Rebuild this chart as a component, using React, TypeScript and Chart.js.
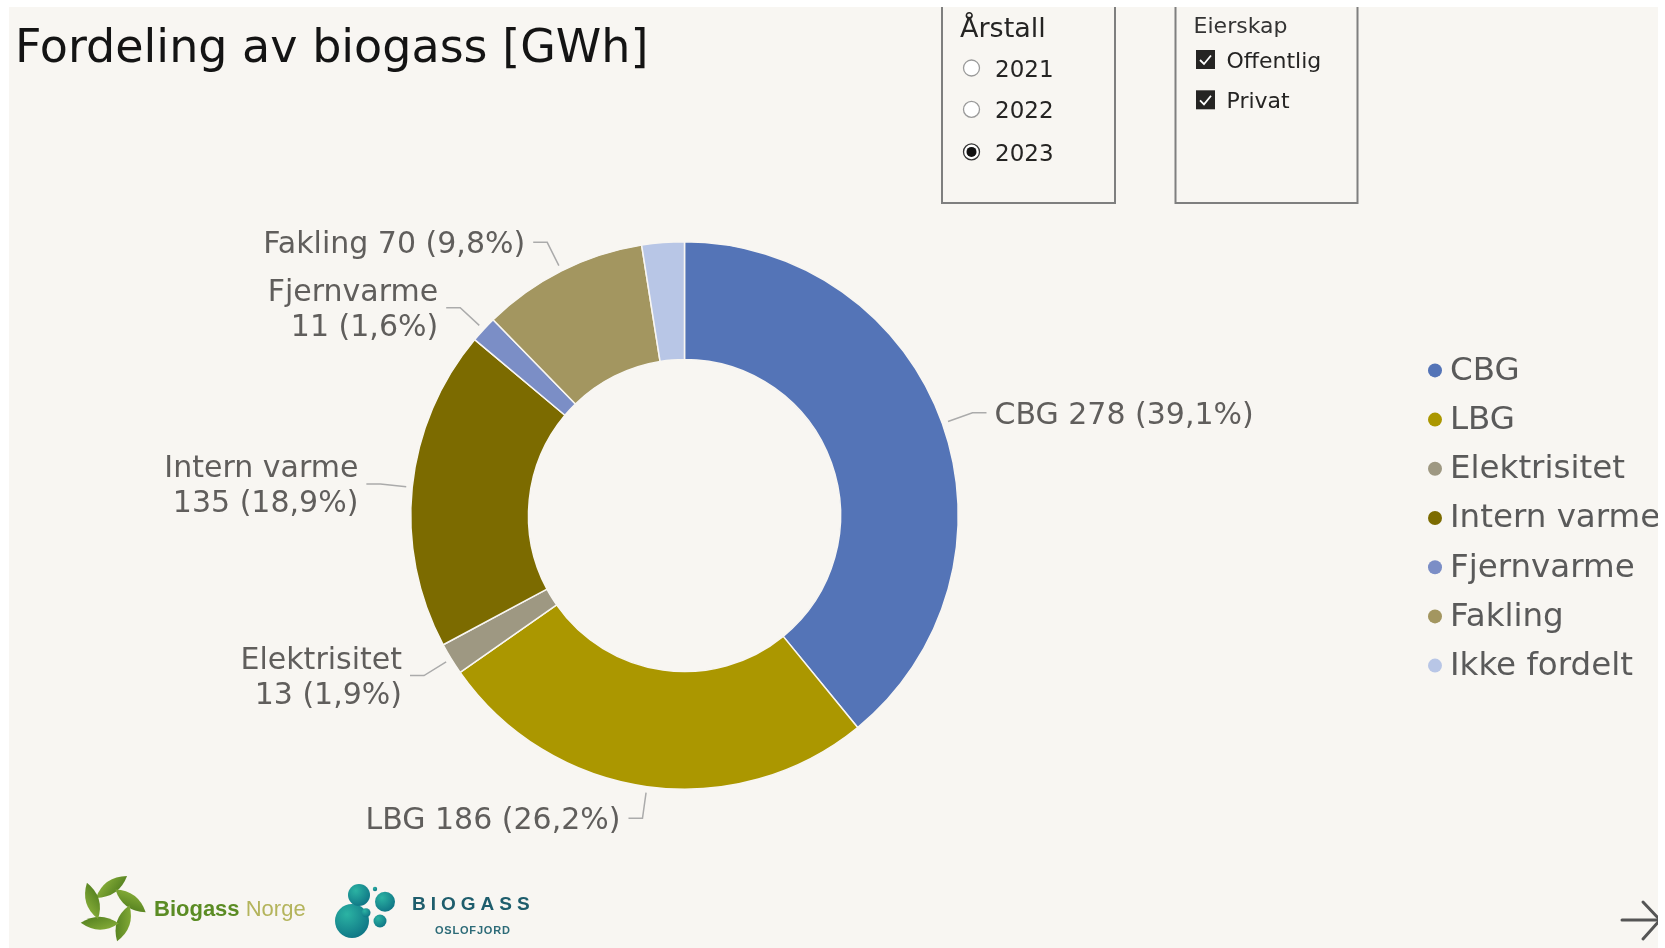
import React, { useEffect, useRef } from "react";
import { Chart, registerables } from "chart.js";
Chart.register(...registerables);

// ---------- data ----------
const categories = ["CBG", "LBG", "Elektrisitet", "Intern varme", "Fjernvarme", "Fakling", "Ikke fordelt"];
const values = [278, 186.2, 13.4, 134.6, 11.2, 69.8, 17.8];
const colors = ["#5474B7", "#AB9700", "#9E9882", "#7C6B00", "#7B8EC6", "#A39660", "#B8C6E6"];
const showLabel = [true, true, true, true, true, true, false];
const wrapLabel = [false, false, true, true, true, false, false];
const years = ["2021", "2022", "2023"];
const selectedYear = "2023";
const ownership = ["Offentlig", "Privat"];
const titleText = "Fordeling av biogass [GWh]";

const BG = "#F8F6F2";
const LABEL_COLOR = "#605E5C";

const leaderLabels = {
  id: "leaderLabels",
  afterDatasetsDraw(chart: any) {
    const ctx = chart.ctx;
    const meta = chart.getDatasetMeta(0);
    const data = chart.data.datasets[0].data as number[];
    const total = data.reduce((a, b) => a + b, 0);
    ctx.save();
    ctx.font = '30px "DejaVu Sans"';
    meta.data.forEach((arc: any, i: number) => {
      if (!showLabel[i]) return;
      const { x, y, startAngle, endAngle, outerRadius } = arc.getProps(
        ["x", "y", "startAngle", "endAngle", "outerRadius"],
        true
      );
      const mid = (startAngle + endAngle) / 2;
      const dx = Math.cos(mid);
      const dy = Math.sin(mid);
      const p0x = x + dx * (outerRadius + 6);
      const p0y = y + dy * (outerRadius + 6);
      const p1x = x + dx * (outerRadius + 32);
      const p1y = y + dy * (outerRadius + 32);
      const side = dx >= 0 ? 1 : -1;
      const p2x = p1x + side * 14;
      ctx.strokeStyle = "#ABABAB";
      ctx.lineWidth = 1.5;
      ctx.beginPath();
      ctx.moveTo(p0x, p0y);
      ctx.lineTo(p1x, p1y);
      ctx.lineTo(p2x, p1y);
      ctx.stroke();
      const v = data[i];
      const pct = ((v / total) * 100).toFixed(1).replace(".", ",");
      const valText = `${Math.round(v)} (${pct}%)`;
      const lines = wrapLabel[i] ? [categories[i], valText] : [`${categories[i]} ${valText}`];
      ctx.fillStyle = LABEL_COLOR;
      ctx.textAlign = side > 0 ? "left" : "right";
      ctx.textBaseline = "middle";
      const lh = 35;
      const tx = p2x + side * 8;
      lines.forEach((ln, k) => {
        ctx.fillText(ln, tx, p1y + (k - (lines.length - 1) / 2) * lh + 3);
      });
    });
    ctx.restore();
  },
};

const sideLegend = {
  id: "sideLegend",
  afterDraw(chart: any) {
    const ctx = chart.ctx;
    const meta = chart.getDatasetMeta(0);
    const cy = meta.data[0] ? meta.data[0].y : 515;
    const n = categories.length;
    const gap = 49.2;
    const dotX = 1435;
    const textX = 1450;
    ctx.save();
    ctx.font = '32.5px "DejaVu Sans"';
    ctx.textAlign = "left";
    ctx.textBaseline = "middle";
    categories.forEach((c, i) => {
      const yy = cy + 2.5 + (i - (n - 1) / 2) * gap;
      ctx.fillStyle = colors[i];
      ctx.beginPath();
      ctx.arc(dotX, yy, 7, 0, Math.PI * 2);
      ctx.fill();
      ctx.fillStyle = "#5A5A5A";
      ctx.fillText(c, textX, yy + 1);
    });
    ctx.restore();
  },
};

function DonutChart() {
  const ref = useRef<HTMLCanvasElement | null>(null);
  useEffect(() => {
    if (!ref.current) return;
    const chart = new Chart(ref.current, {
      type: "doughnut",
      data: {
        labels: categories,
        datasets: [
          {
            data: values,
            backgroundColor: colors,
            borderColor: BG,
            borderWidth: 1.5,
            hoverOffset: 0,
          },
        ],
      },
      options: {
        responsive: false,
        devicePixelRatio: 1,
        animation: false,
        cutout: "57%",
        layout: { padding: { left: 410, right: 706, top: 241, bottom: 158 } },
        plugins: {
          legend: { display: false },
          tooltip: { enabled: false },
        },
      },
      plugins: [leaderLabels, sideLegend],
    });
    return () => chart.destroy();
  }, []);
  return (
    <canvas
      ref={ref}
      width={1665}
      height={948}
      style={{ position: "absolute", left: 0, top: 0, width: 1665, height: 948 }}
    />
  );
}

function Overlay() {
  const radioY = [68, 109.4, 151.9];
  const checkY = [59.5, 99.8];
  const leafAngles = [0, 72, 144, 216, 288];
  const dark = "#252423";
  return (
    <svg
      width={1665}
      height={948}
      style={{ position: "absolute", left: 0, top: 0 }}
      fontFamily="DejaVu Sans"
    >
      <defs>
        <linearGradient id="leaf" x1="0" y1="0" x2="1" y2="1">
          <stop offset="0" stopColor="#8DB33C" />
          <stop offset="1" stopColor="#4D7A1C" />
        </linearGradient>
        <radialGradient id="bub" cx="0.35" cy="0.3" r="0.8">
          <stop offset="0" stopColor="#2BB3A3" />
          <stop offset="1" stopColor="#0D7183" />
        </radialGradient>
      </defs>
      {/* title */}
      <text x={15} y={62} fontSize={46} fill="#141414">
        {titleText}
      </text>

      {/* Årstall slicer */}
      <rect x={942} y={-10} width={173} height={213} fill="none" stroke="#7F7F7F" strokeWidth={2} />
      <text x={960} y={27} fontSize={27} fill={dark} dominantBaseline="central">
        Årstall
      </text>
      {years.map((yr, i) => (
        <g key={yr}>
          <circle
            cx={971.5}
            cy={radioY[i]}
            r={8}
            fill="#FFFFFF"
            stroke={yr === selectedYear ? "#333" : "#9A9A9A"}
            strokeWidth={1.3}
          />
          {yr === selectedYear && <circle cx={971.5} cy={radioY[i]} r={5} fill="#111" />}
          <text x={995} y={radioY[i] + 1} fontSize={23} fill={dark} dominantBaseline="central">
            {yr}
          </text>
        </g>
      ))}

      {/* Eierskap slicer */}
      <rect x={1175.5} y={-10} width={182} height={213} fill="none" stroke="#7F7F7F" strokeWidth={2} />
      <text x={1193.6} y={25} fontSize={22} fill="#333" dominantBaseline="central">
        Eierskap
      </text>
      {ownership.map((o, i) => (
        <g key={o}>
          <rect x={1196} y={checkY[i] - 9.5} width={19} height={19} fill={dark} />
          <path
            d={`M ${1200} ${checkY[i] + 0.5} L ${1204} ${checkY[i] + 4.5} L ${1211} ${checkY[i] - 4}`}
            stroke="#FFFFFF"
            strokeWidth={1.8}
            fill="none"
          />
          <text x={1226.5} y={checkY[i] + 1} fontSize={22} fill={dark} dominantBaseline="central">
            {o}
          </text>
        </g>
      ))}

      {/* Biogass Norge logo */}
      <g transform="translate(111.5 907)">
        {leafAngles.map((a) => (
          <g key={a} transform={`rotate(${a}) translate(0 -20) rotate(-35)`}>
            <path d="M -19 0 Q 0 -13 19 0 Q 0 13 -19 0 Z" fill="url(#leaf)" />
          </g>
        ))}
      </g>
      <text x={154} y={916} fontFamily="Liberation Sans" fontSize={22}>
        <tspan fontWeight="bold" fill="#5B8C24">
          Biogass
        </tspan>
        <tspan fill="#B4B45C"> Norge</tspan>
      </text>

      {/* Biogass Oslofjord logo */}
      <circle cx={352} cy={921} r={17} fill="url(#bub)" />
      <circle cx={359} cy={895} r={11} fill="url(#bub)" />
      <circle cx={385} cy={901.7} r={10} fill="url(#bub)" />
      <circle cx={366} cy={912.7} r={4.5} fill="url(#bub)" />
      <circle cx={380} cy={921} r={6.5} fill="url(#bub)" />
      <circle cx={375} cy={889} r={2.2} fill="url(#bub)" />
      <text x={412} y={910} fontFamily="Liberation Sans" fontWeight="bold" fontSize={19} letterSpacing={5} fill="#1E5D6C">
        BIOGASS
      </text>
      <text x={435} y={934} fontFamily="Liberation Sans" fontWeight="bold" fontSize={11} letterSpacing={0.8} fill="#2D6B78">
        OSLOFJORD
      </text>

      {/* arrow */}
      <g stroke="#555" strokeWidth={3} fill="none" strokeLinecap="round">
        <line x1={1622} y1={920} x2={1660} y2={920} />
        <line x1={1660} y1={920} x2={1643} y2={902} />
        <line x1={1660} y1={920} x2={1643} y2={939} />
      </g>
    </svg>
  );
}

export default function App() {
  return (
    <div
      style={{
        position: "fixed",
        left: 0,
        top: 0,
        width: 1665,
        height: 948,
        background: "#FFFFFF",
        overflow: "hidden",
      }}
    >
      <div
        style={{
          position: "absolute",
          left: 9,
          top: 7,
          width: 1649,
          height: 941,
          background: BG,
          overflow: "hidden",
        }}
      >
        <div style={{ position: "absolute", left: -9, top: -7, width: 1665, height: 948 }}>
          <DonutChart />
          <Overlay />
        </div>
      </div>
    </div>
  );
}
